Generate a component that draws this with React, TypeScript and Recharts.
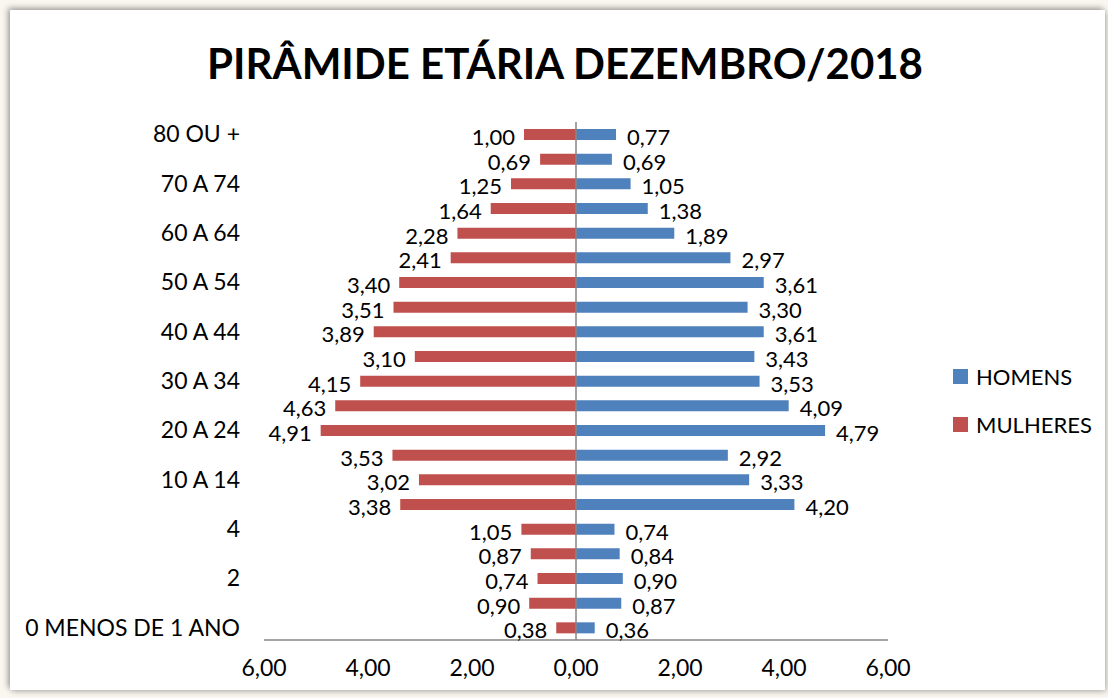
import React from "react";
import {
    BarChart,
    Bar,
    XAxis,
    YAxis,
    ReferenceLine,
    LabelList,
} from "recharts";

// faixas etárias, de baixo para cima
const faixas = [
    "0 MENOS DE 1 ANO", "1", "2", "3", "4", "5 A 9", "10 A 14", "15 A 19",
    "20 A 24", "25 A 29", "30 A 34", "35 A 39", "40 A 44", "45 A 49",
    "50 A 54", "55 A 59", "60 A 64", "65 A 69", "70 A 74", "75 A 79", "80 OU +",
];

const homens = [
    0.36, 0.87, 0.9, 0.84, 0.74, 4.2, 3.33, 2.92, 4.79, 4.09, 3.53,
    3.43, 3.61, 3.3, 3.61, 2.97, 1.89, 1.38, 1.05, 0.69, 0.77,
];

const mulheres = [
    0.38, 0.9, 0.74, 0.87, 1.05, 3.38, 3.02, 3.53, 4.91, 4.63, 4.15,
    3.1, 3.89, 3.51, 3.4, 2.41, 2.28, 1.64, 1.25, 0.69, 1.0,
];

const xTicks = [-6, -4, -2, 0, 2, 4, 6];

const AZUL = "#4F81BD";
const VERMELHO = "#C0504D";
const FONT = "Lato, 'Open Sans', sans-serif";

const data = faixas.map((faixa, i) => ({
    faixa,
    homens: homens[i],
    mulheres: -mulheres[i],
}));

const fmt = (v: number) => Math.abs(v).toFixed(2).replace(".", ",");

function SideLabel(side: "left" | "right") {
    return (props: any) => {
        const { x, y, width, height, value } = props;
        const left = Math.min(x, x + width);
        const right = Math.max(x, x + width);
        const tx = side === "left" ? left - 9 : right + 11;
        return (
            <text
                x={tx}
                y={y + height / 2 + 2}
                textAnchor={side === "left" ? "end" : "start"}
                dominantBaseline="central"
                fontSize={22}
                fontFamily={FONT}
                fill="#000"
            >
                {fmt(value)}
            </text>
        );
    };
}

export default function App() {
    return (
        <div
            style={{
                position: "absolute",
                left: 0,
                top: 0,
                width: 1108,
                height: 698,
                background: "#FAF7F1",
                overflow: "hidden",
                fontFamily: FONT,
            }}
        >
            <div
                style={{
                    position: "absolute",
                    left: 10,
                    top: 10,
                    width: 1095,
                    height: 680,
                    background: "#fff",
                    boxShadow: "-2px -2px 6px rgba(0,0,0,0.35), 2px 2px 6px rgba(0,0,0,0.2)",
                }}
            />
            <div
                style={{
                    position: "absolute",
                    left: 0,
                    top: 35,
                    width: 1130,
                    textAlign: "center",
                    fontSize: 42,
                    fontWeight: 700,
                    color: "#000",
                    lineHeight: "56px",
                }}
            >
                PIRÂMIDE ETÁRIA DEZEMBRO/2018
            </div>

            <div style={{ position: "absolute", left: 0, top: 0 }}>
                <BarChart
                    width={1108}
                    height={698}
                    data={data}
                    layout="vertical"
                    stackOffset="sign"
                    barSize={11}
                    margin={{ top: 122, right: 220, bottom: 18, left: 14 }}
                >
                    <XAxis
                        type="number"
                        domain={[-6, 6]}
                        ticks={xTicks}
                        tickFormatter={fmt}
                        axisLine={{ stroke: "#868686", strokeWidth: 1.5 }}
                        tickLine={false}
                        tickMargin={14}
                        height={40}
                        tick={{ fontSize: 23, fill: "#000", fontFamily: FONT }}
                    />
                    <YAxis
                        type="category"
                        dataKey="faixa"
                        reversed
                        interval={1}
                        width={250}
                        axisLine={false}
                        tickLine={false}
                        tickMargin={18}
                        tick={{ fontSize: 23, fill: "#000", fontFamily: FONT }}
                    />
                    <Bar dataKey="homens" stackId="a" fill={AZUL} isAnimationActive={false}>
                        <LabelList dataKey="homens" content={SideLabel("right")} />
                    </Bar>
                    <Bar dataKey="mulheres" stackId="a" fill={VERMELHO} isAnimationActive={false}>
                        <LabelList dataKey="mulheres" content={SideLabel("left")} />
                    </Bar>
                    <ReferenceLine x={0} stroke="#868686" strokeWidth={1.5} />
                </BarChart>
            </div>

            <div
                style={{
                    position: "absolute",
                    left: 953,
                    top: 362,
                    fontSize: 22,
                    color: "#000",
                }}
            >
                {[
                    { nome: "HOMENS", cor: AZUL },
                    { nome: "MULHERES", cor: VERMELHO },
                ].map((item) => (
                    <div
                        key={item.nome}
                        style={{ display: "flex", alignItems: "center", height: 28, marginBottom: 20 }}
                    >
                        <span
                            style={{
                                display: "inline-block",
                                width: 15,
                                height: 15,
                                background: item.cor,
                                marginRight: 8,
                            }}
                        />
                        {item.nome}
                    </div>
                ))}
            </div>
        </div>
    );
}
